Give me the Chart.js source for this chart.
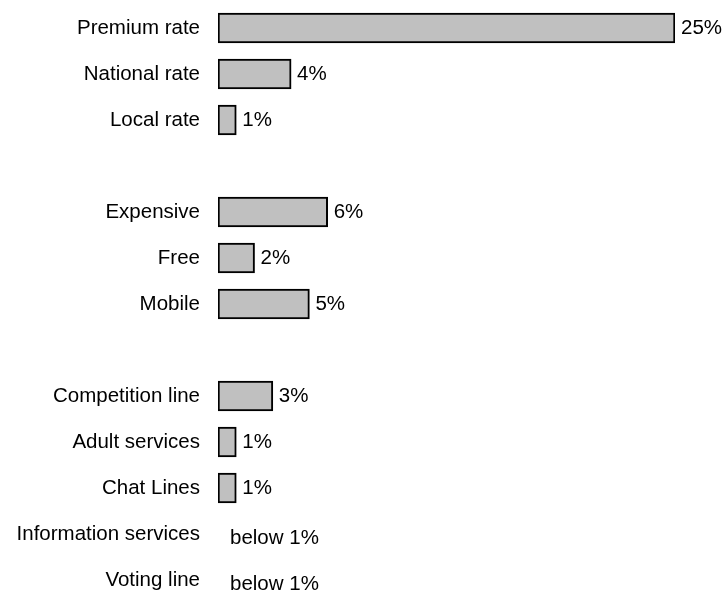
<!DOCTYPE html>
<html>
<head>
<meta charset="utf-8">
<script src="https://cdn.jsdelivr.net/npm/chart.js@4"></script>
<style>
    html, body { margin: 0; padding: 0; background: #ffffff; overflow: hidden; }
    #wrap { width: 727px; height: 603px; }
</style>
</head>
<body>
<div id="wrap"><canvas id="callChart"></canvas></div>
<script>
// empty strings are the blank rows between the groups
const categories = [
    'Premium rate', 'National rate', 'Local rate', '',
    'Expensive', 'Free', 'Mobile', '',
    'Competition line', 'Adult services', 'Chat Lines', 'Information services', 'Voting line'
];
const shares = [25, 4, 1, null, 6, 2, 5, null, 3, 1, 1, 0, 0];
const valueLabels = ['25%', '4%', '1%', '', '6%', '2%', '5%', '', '3%', '1%', '1%', 'below 1%', 'below 1%'];

const FONT = '"Liberation Sans", Arial, sans-serif';

const valueLabelPlugin = {
    id: 'valueLabels',
    afterDatasetsDraw(chart) {
        const ctx = chart.ctx;
        const xScale = chart.scales.x;
        const yScale = chart.scales.y;
        ctx.save();
        ctx.font = '20.5px ' + FONT;
        ctx.fillStyle = '#000000';
        ctx.textBaseline = 'middle';
        ctx.textAlign = 'left';
        valueLabels.forEach((text, i) => {
            if (!text) return;
            const y = yScale.getPixelForValue(i);
            if (shares[i] > 0) {
                ctx.fillText(text, xScale.getPixelForValue(shares[i]) + 6, y);
            } else {
                ctx.fillText(text, xScale.getPixelForValue(0) + 12, y + 4);
            }
        });
        ctx.restore();
    }
};

new Chart(document.getElementById('callChart'), {
    type: 'bar',
    data: {
        labels: categories,
        datasets: [{
            data: shares,
            backgroundColor: (c) => (c.raw > 0 ? '#c0c0c0' : 'rgba(0,0,0,0)'),
            borderColor: '#000000',
            borderWidth: (c) => (c.raw > 0 ? 2 : 0),
            borderSkipped: false,
            barThickness: 30
        }]
    },
    options: {
        indexAxis: 'y',
        responsive: true,
        maintainAspectRatio: false,
        animation: false,
        layout: {
            padding: { top: 5, right: 52, bottom: 0, left: 0 }
        },
        plugins: {
            legend: { display: false },
            tooltip: { enabled: false }
        },
        scales: {
            x: {
                display: false,
                min: 0,
                max: 25
            },
            y: {
                grid: { display: false, drawTicks: false },
                border: { display: false },
                ticks: {
                    color: '#000000',
                    padding: 18,
                    autoSkip: false,
                    font: { family: FONT, size: 20.5 }
                },
                afterFit(scale) {
                    scale.width = 218;
                    scale.paddingTop = 0;
                    scale.paddingBottom = 0;
                }
            }
        }
    },
    plugins: [valueLabelPlugin]
});
</script>
</body>
</html>
